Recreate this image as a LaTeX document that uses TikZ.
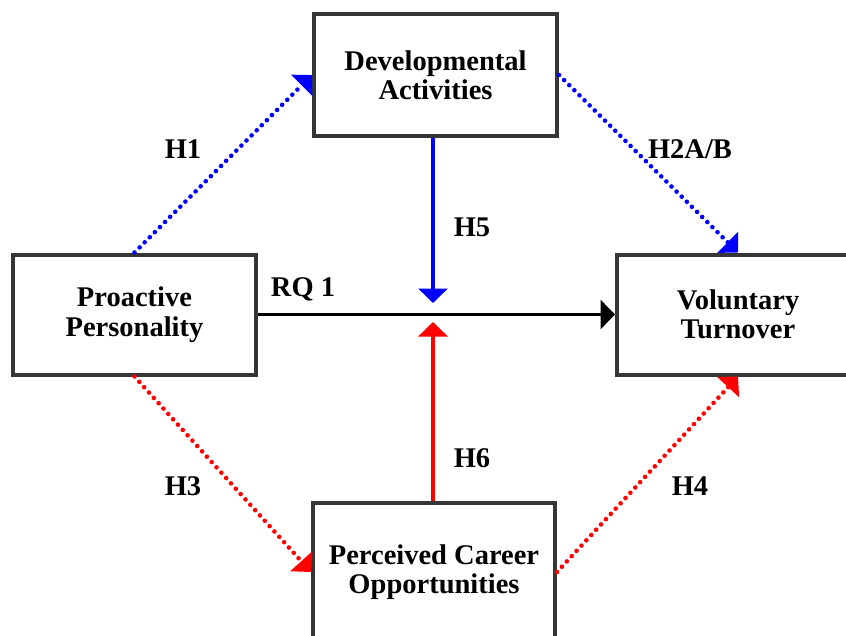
\documentclass[tikz,border=0pt]{standalone}
\usepackage{fontspec}
\setmainfont{Liberation Serif}
\usetikzlibrary{arrows.meta}
\definecolor{boxline}{HTML}{363636}
\definecolor{myblue}{HTML}{0000FF}
\definecolor{myred}{HTML}{FF0000}
\tikzset{
  box/.style={draw=boxline, line width=4pt, fill=white, align=center,
    inner sep=0pt, font=\fontsize{28.5}{29.5}\selectfont\bfseries},
  lbl/.style={font=\fontsize{28.5}{29.5}\selectfont\bfseries, inner sep=0pt},
  tip/.style={-{Triangle[length=14.5pt,width=29pt]}},
  dots/.style={tip, line width=4.6pt, dash pattern=on 0pt off 7.2pt, line cap=round},
  solidarrow/.style={tip, line width=3.2pt}
}
\begin{document}
\begin{tikzpicture}[x=1pt,y=-1pt]
\clip (0,0) rectangle (846,635);
\fill[white] (0,0) rectangle (846,635);
\node[box, minimum width=243pt, minimum height=122pt] (dev) at (435.5,75) {Developmental\\Activities};
\node[box, minimum width=243pt, minimum height=120pt] (pro) at (134.5,314.5) {Proactive\\Personality};
\node[box, minimum width=242pt, minimum height=120pt] (vol) at (738,314.5) {Voluntary\\Turnover};
\node[box, minimum width=242pt, minimum height=138pt] (per) at (434,572) {Perceived Career\\Opportunities};
\coordinate (m5) at (433,303);
\coordinate (m6) at (433,322);
\draw[dots, myblue] (pro.north) -- (dev.west);
\draw[dots, myblue] (dev.east) -- (vol.north);
\draw[dots, myred] (pro.south) -- (per.west);
\draw[dots, myred] (per.east) -- (vol.south);
\draw[solidarrow, myblue] (dev.south -| m5) -- (m5);
\draw[solidarrow, myred] (per.north -| m6) -- (m6);
\draw[solidarrow, black] (pro.east) -- (vol.west);
\node[lbl] (h1) at (183,149) {H1};
\node[lbl] (h2) at (690,149) {H2A/B};
\node[lbl] (h5) at (472,227) {H5};
\node[lbl] (rq) at (303,289) {RQ 1};
\node[lbl] (h6) at (472,458) {H6};
\node[lbl] (h3) at (183,486) {H3};
\node[lbl] (h4) at (690,486) {H4};
\end{tikzpicture}
\end{document}
